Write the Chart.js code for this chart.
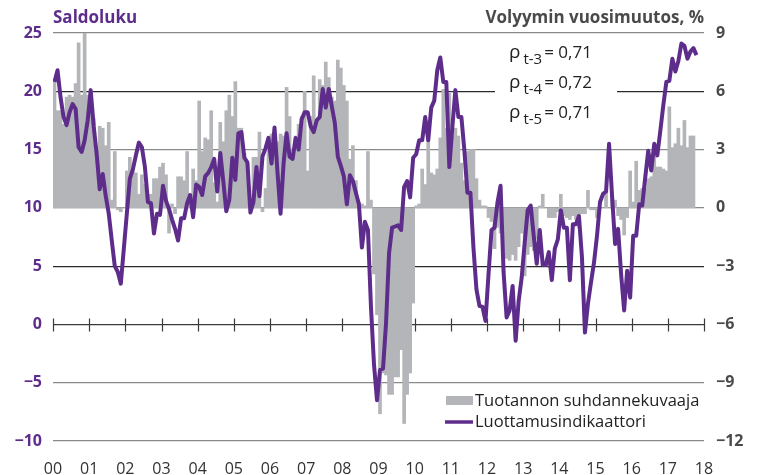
<!DOCTYPE html>
<html>
<head>
<meta charset="utf-8">
<script src="https://cdn.jsdelivr.net/npm/chart.js@4.4.1/dist/chart.umd.min.js"></script>
<style>
  html, body { margin: 0; padding: 0; background: #fff; }
</style>
</head>
<body>
<canvas id="chart" width="765" height="475"></canvas>
<script>
// monthly data, Jan 2000 onwards
const yearLabels = ['00', '01', '02', '03', '04', '05', '06', '07', '08', '09',
                    '10', '11', '12', '13', '14', '15', '16', '17', '18'];

// Tuotannon suhdannekuvaaja, volyymin vuosimuutos %
const production = [
  6.6, 5.0, 5.0, 4.3, 5.7, 5.8, 5.7, 6.4, 8.5, 5.8, 9.0, 5.8,
  6.0, 4.6, 3.1, 4.2, 4.1, 3.2, 4.4, 0.4, 2.9, -0.1, -0.2, 0.0,
  1.9, 2.6, 1.9, 1.8, 0.7, 1.7, 1.2, 0.7, 0.7, 1.5, 1.5, 2.1,
  2.3, 1.7, -1.3, 0.2, -0.3, 1.6, 1.6, 1.4, 2.9, 0.7, 2.0, 1.4,
  5.5, 2.9, 3.6, 3.5, 5.0, 1.3, 0.3, 4.4, 3.4, 5.0, 5.8, 4.7,
  6.5, 4.1, 4.1, 2.8, 2.3, 0.1, 2.6, 2.6, 3.9, -0.2, 1.0, 3.6,
  3.8, 3.0, 3.4, 3.8, 3.7, 6.2, 4.7, 2.9, 3.7, 4.3, 4.7, 6.0,
  1.9, 4.7, 6.8, 4.3, 6.6, 6.3, 7.5, 6.7, 5.7, 5.5, 7.6, 7.2,
  6.3, 5.5, 2.5, 3.2, 1.4, 0.3, 0.2, 0.1, 2.9, 0.4, -3.4, -5.5,
  -10.6, -8.5, -8.6, -9.6, -9.6, -8.7, -8.7, -7.3, -11.1, -9.6, -8.5, -4.9,
  0.1, 0.2, 2.0, 1.2, 3.5, 1.8, 1.7, 2.0, 3.6, 6.1, 4.1, 5.9,
  3.7, 4.1, 3.7, 2.3, 1.4, 2.9, 3.0, 3.0, 1.5, 0.4, 0.1, 0.1,
  -0.5, -0.7, -2.1, -1.0, -1.3, -2.2, -2.6, -2.7, -2.4, -2.7, -2.0, -1.3,
  -3.5, -2.4, -2.0, -2.2, -1.6, 0.1, 0.7, 0.0, -0.5, -0.5, -0.5, -0.2,
  0.7, -0.4, -0.5, -0.6, -0.4, -0.6, -1.0, -0.3, -0.3, 0.9, -0.1, -0.1,
  -0.5, 0.0, 0.0, 0.8, 0.0, 0.6, 0.4, -0.4, -0.6, -1.4, -0.5, 1.9,
  0.3, 2.4, 0.9, 1.0, 1.0, 1.5, 1.6, 2.9, 2.1, 2.1, 2.0, 1.9,
  5.2, 3.1, 3.3, 4.1, 3.2, 4.5, 3.1, 3.7, 3.7
];

// Luottamusindikaattori, saldoluku
const confidence = [
  20.8, 21.8, 19.5, 17.8, 17.1, 18.2, 18.9, 18.5, 15.2, 14.8, 15.8, 17.5,
  20.1, 17.0, 14.6, 11.6, 12.9, 11.0, 9.5, 7.2, 5.0, 4.5, 3.5, 6.5,
  9.5, 12.5, 13.3, 14.5, 15.6, 15.2, 13.5, 10.5, 10.4, 7.8, 9.5, 9.4,
  11.9, 10.6, 9.9, 9.0, 8.2, 7.2, 9.1, 9.1, 10.4, 11.1, 9.2, 12.0,
  11.8, 11.1, 12.7, 13.0, 13.5, 14.2, 11.4, 14.7, 12.3, 9.7, 10.7, 14.3,
  12.4, 16.4, 16.5, 14.3, 13.9, 9.6, 10.5, 13.5, 11.0, 14.4, 15.1, 16.0,
  13.8, 16.9, 13.0, 9.5, 13.8, 16.4, 14.4, 14.2, 16.0, 15.0, 17.6, 18.2,
  18.2, 17.0, 16.5, 17.5, 17.8, 20.2, 18.6, 20.2, 18.7, 17.3, 14.4, 13.6,
  12.7, 10.3, 12.8, 12.3, 11.3, 10.3, 6.6, 8.8, 8.1, 1.5, -3.4, -6.5,
  -3.9, -3.8, 0.1, 6.1, 8.3, 8.4, 8.5, 8.1, 11.8, 12.3, 10.9, 14.3,
  14.6, 15.8, 15.8, 17.8, 15.8, 18.6, 19.2, 21.8, 22.9, 20.8, 20.8, 13.5,
  16.9, 20.1, 17.8, 17.8, 14.9, 11.3, 11.3, 6.6, 3.0, 1.6, 1.5, 0.3,
  4.3, 8.1, 8.3, 10.5, 11.9, 4.5, 0.6, 1.2, 3.3, -1.4, 2.0, 4.0,
  7.0, 9.8, 10.2, 7.6, 5.2, 8.1, 5.1, 5.1, 6.2, 3.8, 6.5, 7.3,
  9.8, 8.3, 8.3, 3.8, 8.6, 8.6, 9.3, 5.8, -0.7, 1.8, 3.6, 5.3,
  7.6, 10.5, 11.2, 11.4, 15.5, 11.0, 6.9, 8.2, 4.3, 1.2, 4.6, 2.3,
  7.6, 7.6, 10.3, 10.2, 12.6, 14.9, 13.2, 15.5, 14.5, 16.6, 18.8, 20.8,
  20.9, 22.8, 21.7, 22.6, 24.1, 23.9, 22.8, 23.4, 23.7, 23.1
];

const correlations = [['t-3', '0,71'], ['t-4', '0,72'], ['t-5', '0,71']];

const PURPLE = '#5e2d8c';
const GREY_BAR = '#b3b5b8';
const FONT = '"Open Sans", "Noto Sans", sans-serif';

const minus = v => String(v).replace('-', '\u2212');

const decor = {
  id: 'decor',
  beforeDatasetsDraw(chart) {
    const { ctx, chartArea: a, scales } = chart;
    const y0 = scales.y.getPixelForValue(0);
    ctx.save();
    // white box behind the correlation text
    ctx.fillStyle = '#fff';
    ctx.fillRect(495, 42, 122, 84);
    // year ticks on the zero line
    ctx.strokeStyle = '#3a3a3a';
    ctx.lineWidth = 1.2;
    ctx.beginPath();
    yearLabels.forEach((_, i) => {
      const x = Math.round(scales.x.getPixelForValue(i * 12)) + 0.5;
      ctx.moveTo(x, y0 - 6);
      ctx.lineTo(x, y0 + 7);
    });
    ctx.stroke();
    ctx.restore();
  },
  afterDraw(chart) {
    const { ctx, chartArea: a } = chart;
    ctx.save();
    // axis titles
    ctx.textBaseline = 'alphabetic';
    ctx.font = 'bold 17px ' + FONT;
    ctx.fillStyle = PURPLE;
    ctx.textAlign = 'left';
    ctx.fillText('Saldoluku', a.left, 23);
    ctx.fillStyle = '#4a4a4a';
    ctx.textAlign = 'right';
    ctx.fillText('Volyymin vuosimuutos, %', a.right, 23);

    // correlations
    ctx.textAlign = 'left';
    ctx.fillStyle = '#222';
    correlations.forEach(([lag, val], i) => {
      const base = 58 + i * 30;
      let x = 509;
      ctx.font = '19px ' + FONT;
      ctx.fillText('\u03c1', x, base);
      x += ctx.measureText('\u03c1').width + 3;
      ctx.font = '15px ' + FONT;
      ctx.fillText(lag, x, base + 6);
      x += ctx.measureText(lag).width + 2;
      ctx.font = '17px ' + FONT;
      ctx.fillText('= ' + val, x, base);
    });

    // legend
    ctx.font = '16.5px ' + FONT;
    ctx.fillStyle = GREY_BAR;
    ctx.fillRect(446, 396, 27, 9);
    ctx.strokeStyle = PURPLE;
    ctx.lineWidth = 3.5;
    ctx.beginPath();
    ctx.moveTo(445, 422);
    ctx.lineTo(473, 422);
    ctx.stroke();
    ctx.fillStyle = '#222';
    ctx.fillText('Tuotannon suhdannekuvaaja', 475, 406);
    ctx.fillText('Luottamusindikaattori', 475, 427);
    ctx.restore();
  }
};

new Chart(document.getElementById('chart'), {
  data: {
    datasets: [
      {
        type: 'line',
        label: 'Luottamusindikaattori',
        data: confidence.map((v, i) => ({ x: i + 0.5, y: v })),
        yAxisID: 'y',
        borderColor: PURPLE,
        borderWidth: 4,
        pointRadius: 0,
        tension: 0,
        borderJoinStyle: 'round',
        order: 0,
      },
      {
        type: 'bar',
        label: 'Tuotannon suhdannekuvaaja',
        data: production.map((v, i) => ({ x: i + 0.5, y: v })),
        yAxisID: 'y1',
        backgroundColor: GREY_BAR,
        borderWidth: 0,
        barPercentage: 1,
        categoryPercentage: 1,
        order: 1,
      },
    ],
  },
  options: {
    responsive: false,
    animation: false,
    layout: { padding: { top: 33, left: 0, right: 0, bottom: 0 } },
    plugins: { legend: { display: false }, tooltip: { enabled: false } },
    scales: {
      x: {
        type: 'linear',
        offset: false,
        min: 0,
        max: 216,
        grid: { display: false },
        border: { display: false },
        ticks: {
          stepSize: 12,
          autoSkip: false,
          maxRotation: 0,
          padding: 11,
          color: '#333',
          font: { family: FONT, size: 16 },
          callback: v => yearLabels[v / 12],
        },
        afterFit: s => { s.height = 34; },
      },
      y: {
        position: 'left',
        min: -10,
        max: 25,
        grid: {
          drawTicks: false,
          lineWidth: 1.2,
          color: c => (c.tick.value === 20 || c.tick.value === 5) ? '#2a2a2a'
                    : c.tick.value === 0 ? '#3a3a3a' : '#8a8a8a',
        },
        border: { display: false },
        ticks: {
          stepSize: 5,
          padding: 11,
          color: PURPLE,
          font: { family: FONT, size: 16, weight: 'bold' },
          callback: v => minus(v),
        },
        afterFit: s => { s.width = 53; },
      },
      y1: {
        position: 'right',
        min: -12,
        max: 9,
        grid: { display: false, drawTicks: false },
        border: { display: false },
        ticks: {
          stepSize: 3,
          padding: 12,
          color: '#4a4a4a',
          font: { family: FONT, size: 16, weight: 'bold' },
          callback: v => minus(v),
        },
        afterFit: s => { s.width = 61; },
      },
    },
  },
  plugins: [decor],
});
</script>
</body>
</html>
